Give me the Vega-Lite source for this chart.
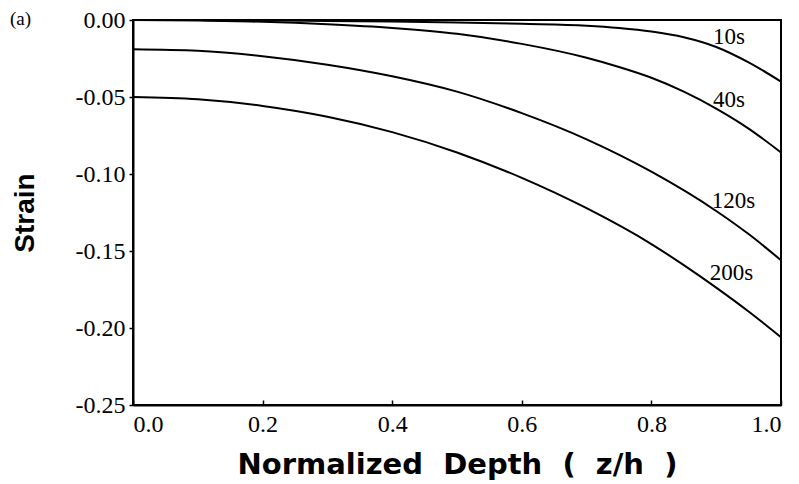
{
  "$schema": "https://vega.github.io/schema/vega-lite/v6.json",
  "autosize": "none",
  "width": 648,
  "height": 385,
  "padding": {"left": 133, "top": 20, "right": 18, "bottom": 79},
  "background": "white",
  "title": {"text": "(a)", "anchor": "start", "frame": "group", "dx": -123, "dy": 21, "offset": 0, "font": "Liberation Serif", "fontSize": 19, "fontWeight": "normal", "color": "black"},
  "config": {
    "view": {"stroke": "black", "strokeWidth": 2},
    "axis": {"grid": false, "domainColor": "black", "domainWidth": 2, "tickColor": "black", "tickWidth": 1.5, "labelColor": "black", "titleColor": "black"}
  },
  "datasets": {
    "curves": [
      {"d": 0.0, "s": 0.0, "t": "10s"}, {"d": 0.1, "s": 0.0, "t": "10s"}, {"d": 0.2, "s": -0.0003, "t": "10s"}, {"d": 0.3, "s": -0.0006, "t": "10s"}, {"d": 0.4, "s": -0.001, "t": "10s"}, {"d": 0.5, "s": -0.0016, "t": "10s"}, {"d": 0.6, "s": -0.0025, "t": "10s"}, {"d": 0.7, "s": -0.0037, "t": "10s"}, {"d": 0.75, "s": -0.0052, "t": "10s"}, {"d": 0.8, "s": -0.0075, "t": "10s"}, {"d": 0.85, "s": -0.0112, "t": "10s"}, {"d": 0.9, "s": -0.0175, "t": "10s"}, {"d": 0.95, "s": -0.0275, "t": "10s"}, {"d": 1.0, "s": -0.04, "t": "10s"},
      {"d": 0.0, "s": 0.0, "t": "40s"}, {"d": 0.1, "s": -0.0004, "t": "40s"}, {"d": 0.2, "s": -0.0012, "t": "40s"}, {"d": 0.3, "s": -0.0028, "t": "40s"}, {"d": 0.4, "s": -0.0052, "t": "40s"}, {"d": 0.5, "s": -0.009, "t": "40s"}, {"d": 0.6, "s": -0.0155, "t": "40s"}, {"d": 0.7, "s": -0.0245, "t": "40s"}, {"d": 0.75, "s": -0.0305, "t": "40s"}, {"d": 0.8, "s": -0.0375, "t": "40s"}, {"d": 0.85, "s": -0.0465, "t": "40s"}, {"d": 0.9, "s": -0.0575, "t": "40s"}, {"d": 0.95, "s": -0.0705, "t": "40s"}, {"d": 1.0, "s": -0.086, "t": "40s"},
      {"d": 0.0, "s": -0.019, "t": "120s"}, {"d": 0.1, "s": -0.02, "t": "120s"}, {"d": 0.2, "s": -0.0235, "t": "120s"}, {"d": 0.3, "s": -0.029, "t": "120s"}, {"d": 0.4, "s": -0.0365, "t": "120s"}, {"d": 0.5, "s": -0.0465, "t": "120s"}, {"d": 0.6, "s": -0.0605, "t": "120s"}, {"d": 0.7, "s": -0.0775, "t": "120s"}, {"d": 0.8, "s": -0.0985, "t": "120s"}, {"d": 0.9, "s": -0.124, "t": "120s"}, {"d": 0.95, "s": -0.139, "t": "120s"}, {"d": 1.0, "s": -0.156, "t": "120s"},
      {"d": 0.0, "s": -0.05, "t": "200s"}, {"d": 0.1, "s": -0.0515, "t": "200s"}, {"d": 0.2, "s": -0.0558, "t": "200s"}, {"d": 0.3, "s": -0.0628, "t": "200s"}, {"d": 0.4, "s": -0.0728, "t": "200s"}, {"d": 0.5, "s": -0.086, "t": "200s"}, {"d": 0.6, "s": -0.1025, "t": "200s"}, {"d": 0.7, "s": -0.1222, "t": "200s"}, {"d": 0.8, "s": -0.1455, "t": "200s"}, {"d": 0.85, "s": -0.1592, "t": "200s"}, {"d": 0.9, "s": -0.1738, "t": "200s"}, {"d": 0.95, "s": -0.1893, "t": "200s"}, {"d": 1.0, "s": -0.206, "t": "200s"}
    ],
    "labels": [
      {"d": 0.895, "s": -0.0156, "label": "10s"},
      {"d": 0.895, "s": -0.0565, "label": "40s"},
      {"d": 0.893, "s": -0.122, "label": "120s"},
      {"d": 0.89, "s": -0.169, "label": "200s"}
    ]
  },
  "layer": [
    {
      "data": {"name": "curves"},
      "mark": {"type": "line", "color": "black", "strokeWidth": 2, "interpolate": "monotone", "clip": true},
      "encoding": {
        "x": {"field": "d", "type": "quantitative", "scale": {"domain": [0, 1], "nice": false, "zero": false},
          "axis": {"values": [0, 0.2, 0.4, 0.6, 0.8, 1.0], "format": ".1f", "tickSize": -5, "labelPadding": 12,
            "labelFont": "Liberation Serif", "labelFontSize": 24, "labelColor": "black",
            "title": "Normalized\u00a0\u00a0Depth\u00a0\u00a0(\u00a0\u00a0z/h\u00a0\u00a0)", "titleFont": "DejaVu Sans", "titleFontWeight": "bold", "titleFontSize": 29, "titlePadding": 14}},
        "y": {"field": "s", "type": "quantitative", "scale": {"domain": [-0.25, 0], "nice": false, "zero": false},
          "axis": {"values": [-0.25, -0.2, -0.15, -0.1, -0.05, 0], "labelExpr": "replace(format(datum.value, '.2f'), '\u2212', '-')", "tickSize": 4, "labelPadding": 4,
            "labelFont": "Liberation Serif", "labelFontSize": 24, "labelColor": "black",
            "title": "Strain", "titleFont": "Liberation Sans", "titleFontWeight": "bold", "titleFontSize": 28, "titlePadding": 36}},
        "detail": {"field": "t", "type": "nominal"}
      }
    },
    {
      "data": {"name": "labels"},
      "mark": {"type": "text", "align": "left", "baseline": "alphabetic", "font": "Liberation Serif", "fontSize": 23, "color": "black"},
      "encoding": {
        "x": {"field": "d", "type": "quantitative"},
        "y": {"field": "s", "type": "quantitative"},
        "text": {"field": "label", "type": "nominal"}
      }
    }
  ]
}
